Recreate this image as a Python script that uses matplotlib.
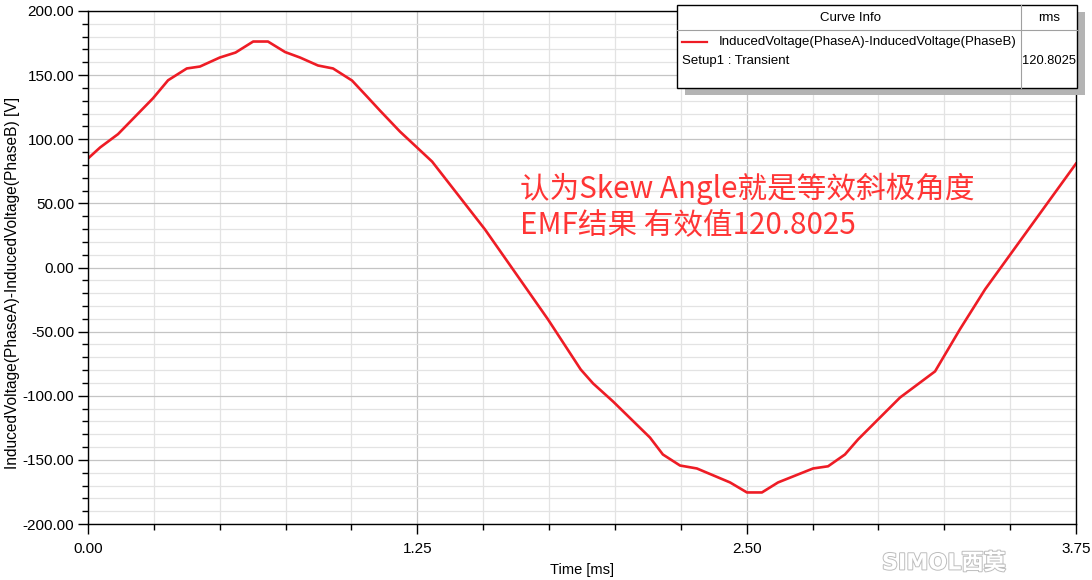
import matplotlib
matplotlib.use("Agg")
import matplotlib.pyplot as plt
from matplotlib.patches import Rectangle
from matplotlib.lines import Line2D
from matplotlib.ticker import MultipleLocator, FormatStrFormatter
import matplotlib.patheffects as pe

# ---- data ----
time_ms = [0.000, 0.046, 0.114, 0.247, 0.304, 0.375, 0.425, 0.500, 0.560, 0.627,
           0.683, 0.748, 0.805, 0.873, 0.930, 1.002, 1.059, 1.108, 1.184, 1.245,
           1.306, 1.507, 1.640, 1.746, 1.870, 1.917, 1.993, 2.133, 2.182, 2.247,
           2.311, 2.437, 2.501, 2.558, 2.619, 2.752, 2.809, 2.873, 2.923, 3.082,
           3.215, 3.310, 3.405, 3.500, 3.750]
voltage = [85.0, 93.6, 104.0, 132.0, 146.0, 155.2, 156.7, 163.7, 167.6, 176.2,
           176.2, 168.0, 163.7, 157.5, 155.2, 145.8, 133.3, 122.4, 106.0, 94.3,
           82.6, 29.6, -9.4, -40.5, -79.5, -90.4, -104.5, -132.6, -145.8, -154.4,
           -156.7, -167.6, -175.4, -175.4, -167.6, -156.7, -155.0, -145.8, -134.0, -101.4,
           -81.0, -48.0, -17.0, 10.0, 81.0]

curve_name = "InducedVoltage(PhaseA)-InducedVoltage(PhaseB)"
setup_name = "Setup1 : Transient"
rms_value = "120.8025"
note_lines = ["认为Skew Angle就是等效斜极角度", "EMF结果 有效值120.8025"]

W, H = 1092, 580
plt.rcParams['font.family'] = ['Liberation Sans', 'DejaVu Sans']

fig = plt.figure(figsize=(W / 100, H / 100), dpi=100)
ax = fig.add_axes([88 / W, 1 - 524 / H, (1076 - 88) / W, (524 - 11) / H])

ax.plot(time_ms, voltage, color='#ee1c25', lw=1.9, solid_joinstyle='round')

ax.set_xlim(0, 3.75)
ax.set_ylim(-200, 200)
ax.xaxis.set_major_locator(MultipleLocator(1.25))
ax.xaxis.set_minor_locator(MultipleLocator(0.25))
ax.yaxis.set_major_locator(MultipleLocator(50))
ax.yaxis.set_minor_locator(MultipleLocator(10))
ax.xaxis.set_major_formatter(FormatStrFormatter('%.2f'))
ax.yaxis.set_major_formatter(FormatStrFormatter('%.2f'))

ax.grid(True, which='minor', color='#e3e3e3', lw=0.9)
ax.grid(True, which='major', color='#c4c4c4', lw=0.9)
ax.set_axisbelow(True)

ax.tick_params(which='major', direction='out', length=7, width=1, labelsize=11, pad=3)
ax.tick_params(which='minor', direction='out', length=4, width=1)
ax.tick_params(axis='x', pad=6)
for s in ax.spines.values():
    s.set_color('black')
    s.set_linewidth(1)

ax.set_xlabel("Time [ms]", fontsize=10.5, labelpad=5)
ax.set_ylabel(curve_name + " [V]", fontsize=11.2)
ax.yaxis.set_label_coords(-0.069, 0.47)

# annotation text
for i, line in enumerate(note_lines):
    ax.text(520 / W, 1 - (189 + 36 * i) / H, line, transform=fig.transFigure,
            fontsize=21.3, color='#ff3535', va='center', ha='left',
            family=['Noto Sans CJK SC', 'DejaVu Sans'])

# curve info box (pixel coords -> figure fractions)
def fx(x):
    return x / W

def fy(y):
    return 1 - y / H

box_l, box_r, box_t, box_b = 677, 1077, 5, 88
fig.patches.append(Rectangle((fx(box_l + 8), fy(box_b + 7)), fx(box_r - box_l), fy(box_t) - fy(box_b),
                             transform=fig.transFigure, facecolor='#b4b4b4', edgecolor='none', zorder=5))
fig.patches.append(Rectangle((fx(box_l), fy(box_b)), fx(box_r - box_l), fy(box_t) - fy(box_b),
                             transform=fig.transFigure, facecolor='white', edgecolor='black', lw=1, zorder=6))
fig.lines.append(Line2D([fx(box_l), fx(box_r)], [fy(30), fy(30)], transform=fig.transFigure,
                        color='#a0a0a0', lw=0.8, zorder=7))
fig.lines.append(Line2D([fx(1021), fx(1021)], [fy(box_t), fy(box_b)], transform=fig.transFigure,
                        color='#a0a0a0', lw=0.8, zorder=7))
fig.lines.append(Line2D([fx(682), fx(707)], [fy(42), fy(42)], transform=fig.transFigure,
                        color='#ee1c25', lw=1.6, zorder=7))
fig.text(fx(850), fy(18), "Curve Info", ha='center', va='center', fontsize=9.5, zorder=8)
fig.text(fx(1049), fy(18), "rms", ha='center', va='center', fontsize=9.5, zorder=8)
fig.text(fx(719), fy(42), curve_name, ha='left', va='center', fontsize=9.5, zorder=8)
fig.text(fx(682), fy(61), setup_name, ha='left', va='center', fontsize=9.5, zorder=8)
fig.text(fx(1049), fy(61), rms_value, ha='center', va='center', fontsize=9.3, zorder=8)

# watermark
fig.text(fx(882), fy(563), "SIMOL西莫", ha='left', va='center', fontsize=16, color='white',
         family=['DejaVu Sans', 'Noto Sans CJK SC'], fontweight='bold',
         path_effects=[pe.withStroke(linewidth=1.4, foreground='#bdbdbd')])

fig.savefig("out.png", dpi=100)
